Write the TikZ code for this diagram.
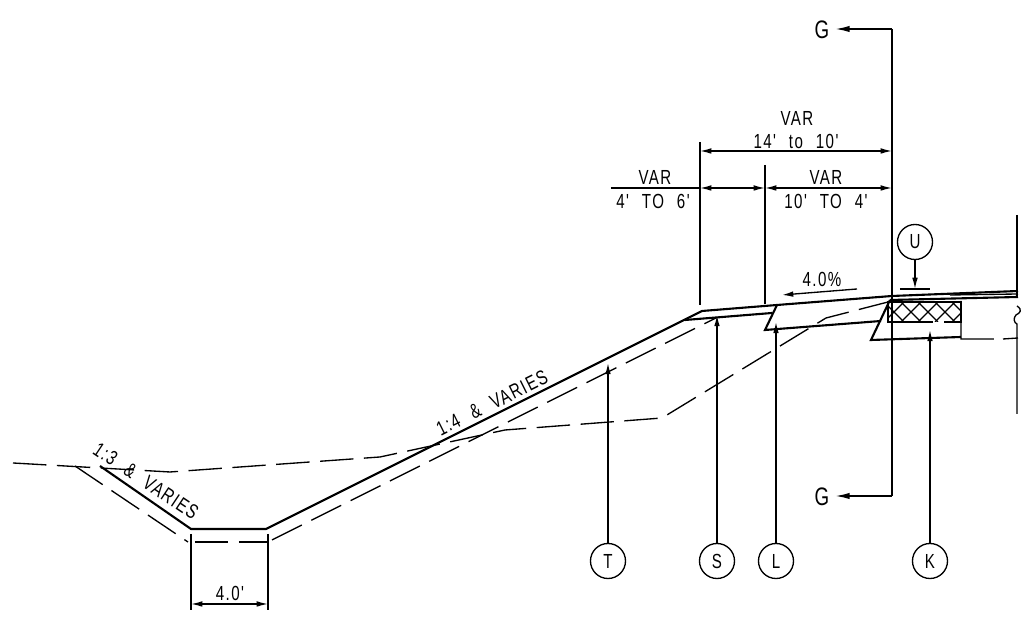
\documentclass[tikz,border=0pt]{standalone}
\usepackage{fontspec}
\setmainfont{Liberation Sans}
\newfontfamily\cadfont[FakeStretch=0.74,LetterSpace=7,WordSpace=2.3]{Liberation Sans}
\usetikzlibrary{arrows.meta}

\begin{document}
\begin{tikzpicture}[x=0.01cm,y=-0.01cm,>={Latex[length=3.2pt,width=1.6pt]},
    thin line/.style={line width=0.38pt},
    heavy/.style={line width=0.6pt},
    ground/.style={line width=0.38pt,dash pattern=on 9.5pt off 3pt},
    callout/.style={draw,circle,line width=0.38pt,inner sep=0pt,minimum size=0.35cm,font=\cadfont\fontsize{5.8}{7}\selectfont},
    dim/.style={inner sep=0pt,font=\cadfont\fontsize{5.8}{7}\selectfont},
    section mark/.style={inner sep=0pt,outer sep=1.4pt,font=\cadfont\fontsize{7.2}{8}\selectfont}]
    \useasboundingbox (0,0) rectangle (1029,625);
    % section line
    \node (gt) [section mark] at (822,30) {G};
    \node (gb) [section mark] at (822,497) {G};
    \coordinate (st) at (892,29);
    \coordinate (sb) at (892,496);
    \draw[heavy] (st) -- (sb);
    \draw[heavy,-{Latex[length=4.4pt,width=1.8pt]}] (st) -- (gt.east |- st);
    \draw[heavy,-{Latex[length=4.4pt,width=1.8pt]}] (sb) -- (gb.east |- sb);
    % finished grade
    \coordinate (f1) at (100,466);
    \coordinate (f2) at (191,529);
    \coordinate (f3) at (266,529);
    \coordinate (f5) at (702,311);
    \coordinate (f6) at (777,305);
    \coordinate (f7) at (892,296);
    \coordinate (f8) at (1018,291);
    \draw[heavy] (f1) -- (f2) -- (f3) -- (f5) -- (f6) -- (f7) -- (f8);
    \draw[heavy] (685,320) -- (772,313);
    \draw[heavy] (f6) -- (765,330) -- (881,321);
    % existing ground
    \draw[ground] (13,463) -- (170,472) -- (380,457) -- (505,430) -- (662,418) -- (826,318) -- (888,302);
    \draw[ground] (75,466) -- (188,542);
    \draw[ground] (195,542) -- (268,542);
    \draw[ground] (272,540) -- (716,318);
    % pavement
    \draw[thin line] (950,295) -- (1018,294);
    \draw[heavy] (890,300) -- (1018,297);
    \draw[heavy] (890,300) -- (871,340) -- (961,337);
    \draw[thin line] (961,301) -- (961,339) -- (994,339) (1003,339) -- (1018,338);
    \draw[heavy] (933,322) -- (888,322) -- (888,302) -- (961,302) -- (961,322) -- (944,322);
    \begin{scope}
      \clip (888,302) rectangle (961,322);
      \foreach \hx in {850,867,...,980} {
        \draw[thin line] (\hx,302) -- (\hx+20,322);
        \draw[thin line] (\hx,322) -- (\hx+20,302);
      }
    \end{scope}
    \draw[thin line] (1017,215) -- (1017,298);
    \draw[thin line] (1017,306) .. controls (1023,310) and (1020,313) .. (1016,315) .. controls (1013,318) and (1014,323) .. (1017,324) -- (1017,414);
    % dimensions
    \coordinate (d1) at (700,142);
    \coordinate (d2) at (700,305);
    \coordinate (d3) at (765,165);
    \coordinate (d4) at (765,304);
    \draw[thin line] (d1) -- (d2);
    \draw[thin line] (d3) -- (d4);
    \draw[thin line,<->] (700,151) -- (892,151);
    \draw[thin line] (611,188) -- (700,188);
    \draw[thin line,<->] (700,188) -- (765,188);
    \draw[thin line,<->] (765,188) -- (892,188);
    \node [dim] at (797,118) {VAR};
    \node [dim] at (796,141) {14' to 10'};
    \node [dim] at (655,177) {VAR};
    \node [dim] at (653,201) {4' TO 6'};
    \node [dim] at (826,177) {VAR};
    \node [dim] at (826,201) {10' TO 4'};
    \draw[thin line,->] (857,289) -- (782,295);
    \node [dim] at (822,279) {4.0\%};
    \draw[thin line] (191,534) -- (191,610);
    \draw[thin line] (268,534) -- (268,610);
    \draw[thin line,<->] (191,604) -- (268,604);
    \node [dim] at (230,593) {4.0'};
    \node [dim,rotate=26.5] at (492,403) {1:4 \& VARIES};
    \node [dim,rotate=-33.7] at (146,481) {1:3 \& VARIES};
    % callouts
    \node (u) [callout] at (915,242) {U};
    \node (t) [callout] at (608,561) {T};
    \node (s) [callout] at (717,561) {S};
    \node (l) [callout] at (776,561) {L};
    \node (k) [callout] at (930,561) {K};
    \coordinate (ue) at (915,289);
    \draw[thin line,->] (u) -- (ue);
    \draw[heavy] (900,289) -- (930,289);
    \draw[thin line,->] (t) -- (608,363);
    \draw[thin line,->] (s) -- (717,315);
    \draw[thin line,->] (l) -- (776,322);
    \draw[thin line,->] (k) -- (930,330);
  \end{tikzpicture}
\end{document}
